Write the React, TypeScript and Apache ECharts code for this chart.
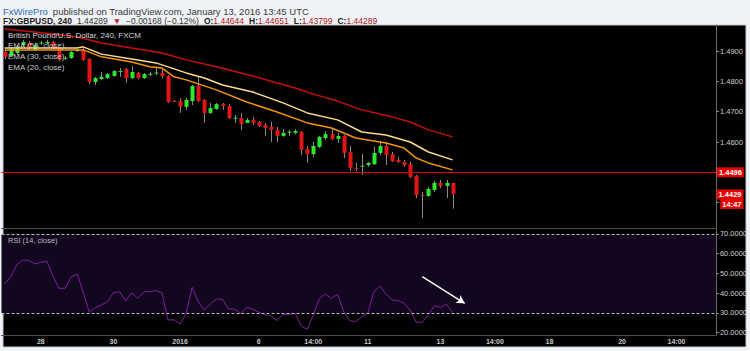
import React, { useEffect, useRef } from "react";
import * as echarts from "echarts";

// ---------- data ----------
const barCount = 118; // visible bar slots (candles + empty future space)

const opens = [
  1.4897, 1.4884, 1.4894, 1.4920, 1.4927, 1.4904, 1.4927, 1.4927, 1.4930, 1.4910,
  1.4877, 1.4877, 1.4900, 1.4904, 1.4874, 1.4798, 1.4808, 1.4811, 1.4818, 1.4831,
  1.4841, 1.4811, 1.4828, 1.4811, 1.4824, 1.4828, 1.4828, 1.4818, 1.4735, 1.4735,
  1.4716, 1.4735, 1.4785, 1.4739, 1.4696, 1.4709, 1.4725, 1.4719, 1.4679, 1.4679,
  1.4663, 1.4673, 1.4666, 1.4656, 1.4650, 1.4640, 1.4620, 1.4633, 1.4630, 1.4633,
  1.4577, 1.4560, 1.4584, 1.4613, 1.4626, 1.4610, 1.4620, 1.4567, 1.4514, 1.4521,
  1.4524, 1.4527, 1.4564, 1.4587, 1.4560, 1.4541, 1.4534, 1.4527, 1.4488, 1.4425,
  1.4422, 1.4442, 1.4465, 1.4455, 1.44644,
];
const closes = [
  1.4881, 1.4907, 1.4914, 1.4930, 1.4914, 1.4920, 1.4928, 1.4930, 1.4910, 1.4871,
  1.4878, 1.4897, 1.4904, 1.4871, 1.4798, 1.4811, 1.4815, 1.4824, 1.4834, 1.4834,
  1.4811, 1.4831, 1.4811, 1.4824, 1.4825, 1.4829, 1.4818, 1.4732, 1.4734, 1.4716,
  1.4739, 1.4785, 1.4735, 1.4696, 1.4712, 1.4725, 1.4719, 1.4679, 1.4680, 1.4659,
  1.4673, 1.4663, 1.4653, 1.4646, 1.4640, 1.4620, 1.4630, 1.4634, 1.4636, 1.4574,
  1.4560, 1.4587, 1.4617, 1.4626, 1.4610, 1.4620, 1.4564, 1.4514, 1.4513, 1.4522,
  1.4531, 1.4564, 1.4587, 1.4557, 1.4537, 1.4534, 1.4524, 1.4485, 1.4425, 1.4424,
  1.4445, 1.4465, 1.4455, 1.4465, 1.44289,
];
const lows = [
  1.4874, 1.4881, 1.4887, 1.4917, 1.4907, 1.4900, 1.4920, 1.4923, 1.4907, 1.4867,
  1.4871, 1.4874, 1.4897, 1.4867, 1.4791, 1.4788, 1.4805, 1.4808, 1.4815, 1.4815,
  1.4795, 1.4808, 1.4808, 1.4808, 1.4818, 1.4821, 1.4811, 1.4729, 1.4732, 1.4696,
  1.4706, 1.4722, 1.4732, 1.4663, 1.4692, 1.4706, 1.4706, 1.4676, 1.4663, 1.4640,
  1.4663, 1.4656, 1.4650, 1.4620, 1.4600, 1.4600, 1.4617, 1.4620, 1.4626, 1.4557,
  1.4531, 1.4551, 1.4580, 1.4607, 1.4607, 1.4597, 1.4547, 1.4504, 1.4504, 1.4491,
  1.4518, 1.4524, 1.4557, 1.4524, 1.4534, 1.4531, 1.4518, 1.4481, 1.4415, 1.4349,
  1.4419, 1.4435, 1.4448, 1.4415, 1.43799,
];
const highs = [
  1.4904, 1.4914, 1.4920, 1.4937, 1.4933, 1.4923, 1.4933, 1.4937, 1.4933, 1.4914,
  1.4884, 1.4900, 1.4907, 1.4910, 1.4877, 1.4815, 1.4831, 1.4828, 1.4838, 1.4844,
  1.4844, 1.4851, 1.4831, 1.4828, 1.4831, 1.4848, 1.4841, 1.4821, 1.4739, 1.4745,
  1.4745, 1.4788, 1.4818, 1.4742, 1.4729, 1.4729, 1.4729, 1.4725, 1.4689, 1.4696,
  1.4679, 1.4683, 1.4669, 1.4663, 1.4666, 1.4650, 1.4643, 1.4640, 1.4643, 1.4636,
  1.4587, 1.4600, 1.4620, 1.4636, 1.4643, 1.4630, 1.4623, 1.4587, 1.4531, 1.4560,
  1.4534, 1.4584, 1.4603, 1.4600, 1.4567, 1.4551, 1.4541, 1.4534, 1.4491, 1.4435,
  1.4452, 1.4471, 1.4475, 1.4475, 1.44651,
];

const rsiValues = [
  44.7, 48.2, 54.3, 56.8, 56.6, 54.8, 55.7, 56.2, 48.7, 42.5,
  42.5, 48.2, 49.7, 40.6, 30.4, 32.7, 34.1, 35.7, 40.3, 40.8,
  36.2, 40.3, 37.4, 40.8, 40.8, 41.3, 40.3, 26.5, 26.5, 24.4,
  29.8, 43.0, 35.7, 31.5, 34.6, 37.1, 36.9, 32.0, 32.0, 29.8,
  32.9, 32.0, 30.4, 29.2, 28.6, 26.1, 29.3, 29.3, 29.8, 23.4,
  21.7, 29.0, 37.4, 39.6, 37.4, 39.5, 31.0, 26.1, 25.6, 28.1,
  29.8, 40.8, 43.7, 39.6, 36.6, 36.3, 34.9, 31.5, 25.4, 25.2,
  29.0, 33.7, 32.9, 34.4, 30.3,
];

// EMA lines read at selected bars: [barIndex, price]
const ema55 = [
  [0, 1.4973], [5, 1.4963], [12, 1.4947], [16, 1.4927], [21, 1.4910], [26, 1.4894],
  [30, 1.4871], [35, 1.4848], [41, 1.4818], [45, 1.4795], [48, 1.4778], [51, 1.4758],
  [55, 1.4735], [59, 1.4706], [64, 1.4683], [67, 1.4666], [70, 1.4640], [74, 1.4617],
];
const ema30 = [
  [0, 1.4910], [12, 1.4910], [13, 1.4914], [16, 1.4890], [21, 1.4874], [25, 1.4861],
  [27, 1.4848], [30, 1.4828], [33, 1.4811], [36, 1.4788], [41, 1.4765], [46, 1.4729],
  [50, 1.4696], [55, 1.4673], [59, 1.4633], [63, 1.4623], [67, 1.4600], [70, 1.4567],
  [74, 1.4541],
];
const ema20 = [
  [0, 1.4904], [12, 1.4904], [13, 1.4904], [16, 1.4881], [21, 1.4864], [24, 1.4848],
  [26, 1.4844], [28, 1.4815], [30, 1.4805], [35, 1.4772], [40, 1.4732], [45, 1.4699],
  [50, 1.4663], [54, 1.4646], [58, 1.4613], [63, 1.4597], [66, 1.4580], [68, 1.4547],
  [70, 1.4531], [74, 1.4508],
];

const xTickIndex = [6, 18, 29, 42, 51, 60, 72, 81, 90, 102, 111];
const xTickText = ["28", "30", "2016", "6", "14:00", "11", "13", "14:00", "18", "20", "14:00"];
const priceTicks = [1.44, 1.45, 1.46, 1.47, 1.48, 1.49];
const priceLabels = [1.46, 1.47, 1.48, 1.49]; // 1.4400 / 1.4500 sit under the price boxes
const rsiTicks = [20, 30, 40, 50, 60, 70];
const rsiBand = [30, 70];
const hLineLevel = 1.4496;
const lastPrice = 1.44289;
const countdownText = "14:47";
const arrowFrom = [69, 48.4];
const arrowTo = [76, 34.9];

const FONT = "'Liberation Sans', Arial, sans-serif";
const GREEN = "#2aea2a";
const RED = "#e01616";
const BOX_RED = "#e60000";

export default function App() {
  const ref = useRef<HTMLDivElement>(null);

  useEffect(() => {
    if (!ref.current) return;
    const chart = echarts.init(ref.current, undefined, { renderer: "svg" });
    const cats = Array.from({ length: barCount }, (_, i) => "b" + i);
    const labelMap: Record<number, string> = {};
    xTickIndex.forEach((idx, k) => (labelMap[idx] = xTickText[k]));
    const candleData = opens.map((o, i) => [i, o, closes[i], lows[i], highs[i]]);

    const panelRect = {
      id: "panel", type: "rect", z: -100, silent: true,
      shape: { x: 3, y: 25, width: 743, height: 322 },
      style: { fill: "#000000", stroke: "#c5cad0", lineWidth: 1 },
    };

    const option: any = {
      animation: false,
      backgroundColor: "#eff2f6",
      textStyle: { fontFamily: FONT },
      title: [
        {
          left: 3, top: 2, padding: 0,
          text: "{a|FxWirePro} {b|published on TradingView.com, January 13, 2016 13:45 UTC}",
          textStyle: {
            fontFamily: FONT, fontWeight: "normal",
            rich: {
              a: { color: "#2f6db8", fontSize: 9.5, fontWeight: "normal", fontFamily: FONT },
              b: { color: "#3a3a3a", fontSize: 9.5, fontWeight: "normal", fontFamily: FONT },
            },
          },
        },
        {
          left: 3, top: 12, padding: 0,
          text:
            "{k|FX:GBPUSD, 240} {n|1.44289} {r|▼} {n|−0.00168 (−0.12%)} {k|O:}{v|1.44644} {k|H:}{v|1.44651} {k|L:}{v|1.43799} {k|C:}{v|1.44289}",
          textStyle: {
            fontFamily: FONT, fontWeight: "normal",
            rich: {
              k: { color: "#222", fontSize: 8.5, fontWeight: "bold", fontFamily: FONT },
              n: { color: "#333", fontSize: 8.5, fontWeight: "normal", fontFamily: FONT },
              r: { color: "#b31b1b", fontSize: 8.5, fontWeight: "normal", fontFamily: FONT },
              v: { color: "#b02020", fontSize: 8.5, fontWeight: "normal", fontFamily: FONT },
            },
          },
        },
        {
          left: 8, top: 31, padding: 0,
          text: "British Pound/U.S. Dollar, 240, FXCM",
          textStyle: { color: "#d6d6d6", fontSize: 8, fontWeight: "normal", fontFamily: FONT },
        },
      ],
      legend: [
        {
          data: ["EMA (55, close)", "EMA (30, close)", "EMA (20, close)"],
          orient: "vertical", left: 3, top: 41, padding: 0, itemGap: 3,
          itemWidth: 0, itemHeight: 0, icon: "rect", selectedMode: false,
          textStyle: { color: "#c8c8c8", fontSize: 8, lineHeight: 8, fontFamily: FONT },
        },
        {
          data: ["RSI (14, close)"],
          left: 3, top: 236, padding: 0, itemWidth: 0, itemHeight: 0, icon: "rect",
          selectedMode: false,
          textStyle: { color: "#bdbdbd", fontSize: 7.5, lineHeight: 8, fontFamily: FONT },
        },
      ],
      graphic: [panelRect],
      grid: [
        { left: 1.5, top: 25, width: 714.5, height: 203, show: false },
        { left: 1.5, top: 229, width: 714.5, height: 106, show: false },
      ],
      xAxis: [
        {
          type: "category", gridIndex: 0, data: cats, boundaryGap: true,
          axisLine: { show: true, lineStyle: { color: "#4a4a4a", width: 1 } },
          axisTick: { show: false }, axisLabel: { show: false }, splitLine: { show: false },
        },
        {
          type: "category", gridIndex: 1, data: cats, boundaryGap: true,
          axisLine: { show: true, lineStyle: { color: "#4a4a4a", width: 1 } },
          axisTick: { show: false }, splitLine: { show: false },
          axisLabel: {
            interval: 0, margin: 3, color: "#c8c8c8", fontSize: 7, fontWeight: "bold",
            fontFamily: FONT,
            formatter: (_v: string, i: number) => labelMap[i] ?? "",
          },
        },
      ],
      yAxis: [
        {
          type: "value", gridIndex: 0, position: "right", min: 1.43162, max: 1.49861,
          axisLine: { show: true, lineStyle: { color: "#6b6b6b" } },
          axisTick: { show: true, length: 3, lineStyle: { color: "#8a8a8a" }, customValues: priceTicks },
          axisLabel: {
            customValues: priceLabels, margin: 4, color: "#cfcfcf", fontSize: 7.5, fontFamily: FONT,
            formatter: (v: number) => v.toFixed(4),
          },
          splitLine: { show: false },
        },
        {
          type: "value", gridIndex: 1, position: "right", min: 18.86, max: 72.53,
          axisLine: { show: true, lineStyle: { color: "#6b6b6b" } },
          axisTick: { show: true, length: 3, lineStyle: { color: "#8a8a8a" }, customValues: rsiTicks },
          axisLabel: {
            customValues: rsiTicks, margin: 4, color: "#cfcfcf", fontSize: 7.5, fontFamily: FONT,
            formatter: (v: number) => v.toFixed(4),
          },
          splitLine: { show: false },
        },
      ],
      series: [
        {
          type: "custom", name: "GBPUSD", xAxisIndex: 0, yAxisIndex: 0, z: 2,
          data: candleData,
          encode: { x: 0, y: [1, 2, 3, 4] },
          clip: true,
          renderItem: (_params: any, api: any) => {
            const i = api.value(0);
            const o = api.value(1), c = api.value(2), l = api.value(3), h = api.value(4);
            const po = api.coord([i, o]);
            const pc = api.coord([i, c]);
            const pl = api.coord([i, l]);
            const ph = api.coord([i, h]);
            const bw = Math.max(2, Math.round(api.size([1, 0])[0] * 0.66));
            const cx = Math.round(po[0]);
            const up = c >= o;
            const top = Math.min(po[1], pc[1]);
            const hgt = Math.max(1, Math.abs(po[1] - pc[1]));
            return {
              type: "group",
              children: [
                {
                  type: "line",
                  shape: { x1: cx + 0.5, y1: ph[1], x2: cx + 0.5, y2: pl[1] },
                  style: { stroke: "#8a8a8a", lineWidth: 1 },
                },
                {
                  type: "rect",
                  shape: { x: cx + 0.5 - bw / 2, y: top, width: bw, height: hgt },
                  style: { fill: up ? GREEN : RED },
                },
              ],
            };
          },
          markLine: {
            silent: true, symbol: ["none", "none"], animation: false,
            data: [
              {
                yAxis: hLineLevel,
                lineStyle: { color: BOX_RED, width: 1.2, type: "solid" },
                label: {
                  show: true, position: "end", distance: 1,
                  formatter: hLineLevel.toFixed(4),
                  backgroundColor: BOX_RED, color: "#ffffff", fontSize: 7.5, fontWeight: "bold",
                  fontFamily: FONT, padding: [1, 2, 1, 2],
                },
              },
            ],
          },
        },
        {
          type: "line", name: "EMA (55, close)", xAxisIndex: 0, yAxisIndex: 0, z: 3,
          data: ema55, showSymbol: false, symbol: "none",
          lineStyle: { color: "#c80e0e", width: 1.5 }, itemStyle: { color: "#c80e0e" },
        },
        {
          type: "line", name: "EMA (30, close)", xAxisIndex: 0, yAxisIndex: 0, z: 3,
          data: ema30, showSymbol: false, symbol: "none",
          lineStyle: { color: "#f7dc8c", width: 1.5 }, itemStyle: { color: "#f7dc8c" },
        },
        {
          type: "line", name: "EMA (20, close)", xAxisIndex: 0, yAxisIndex: 0, z: 3,
          data: ema20, showSymbol: false, symbol: "none",
          lineStyle: { color: "#f5930f", width: 1.5 }, itemStyle: { color: "#f5930f" },
        },
        {
          type: "line", name: "RSI (14, close)", xAxisIndex: 1, yAxisIndex: 1, z: 3,
          data: rsiValues, showSymbol: false, symbol: "none",
          lineStyle: { color: "#7f1fa0", width: 1 }, itemStyle: { color: "#7f1fa0" },
          markArea: {
            silent: true,
            itemStyle: { color: "#12071f" },
            data: [[{ yAxis: rsiBand[0] }, { yAxis: rsiBand[1] }]],
          },
          markLine: {
            silent: true, animation: false, symbol: ["none", "none"],
            label: { show: false },
            data: [
              { yAxis: rsiBand[1], lineStyle: { color: "#bcbcbc", type: [3, 2], width: 1 } },
              { yAxis: rsiBand[0], lineStyle: { color: "#bcbcbc", type: [3, 2], width: 1 } },
              [
                { coord: arrowFrom, symbol: "none", lineStyle: { color: "#ffffff", width: 1.4, type: "solid" } },
                { coord: arrowTo, symbol: "arrow", symbolSize: [7, 8] },
              ],
            ],
          },
        },
      ],
    };

    chart.setOption(option);

    // last-price and countdown boxes, placed through the price axis scale
    const yLast = chart.convertToPixel({ yAxisIndex: 0 } as any, lastPrice) as unknown as number;
    const boxText = (id: string, text: string, y: number) => ({
      id, type: "text", z: 100, silent: true,
      style: {
        text, x: 743.5, y, align: "right", verticalAlign: "middle",
        fill: "#ffffff", backgroundColor: BOX_RED, padding: [1, 2, 1, 2],
        font: `bold 7.5px ${FONT}`,
      },
    });
    chart.setOption({
      graphic: [
        panelRect,
        boxText("lastBox", lastPrice.toFixed(4), Math.round(yLast) + 0.5),
        boxText("timeBox", countdownText, Math.round(yLast) + 10),
      ],
    });

    return () => chart.dispose();
  }, []);

  return (
    <div
      ref={ref}
      style={{ position: "fixed", left: 0, top: 0, width: 750, height: 351 }}
    />
  );
}
